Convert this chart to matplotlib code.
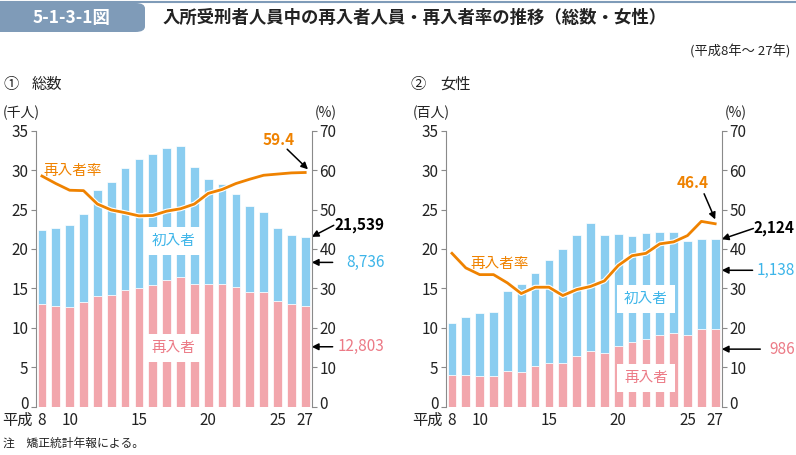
import matplotlib.pyplot as plt
import matplotlib.patheffects as pe
from matplotlib.patches import FancyBboxPatch
from matplotlib.transforms import offset_copy

plt.rcParams['font.family'] = ['Noto Sans CJK JP', 'DejaVu Sans']

years = list(range(8, 28))
xtick_pos = [8, 10, 15, 20, 25, 27]
xtick_labels = ['8', '10', '15', '20', '25', '27']

# 総数 (千人)
total_all = [22.4, 22.65, 23.03, 24.47, 27.47, 28.44, 30.22, 31.36, 32.08, 32.76,
             33.01, 30.39, 28.91, 28.19, 27.0, 25.44, 24.72, 22.7, 21.77, 21.539]
re_all = [13.02, 12.72, 12.6, 13.31, 14.03, 14.12, 14.84, 15.0, 15.47, 16.1,
          16.48, 15.55, 15.6, 15.51, 15.13, 14.58, 14.5, 13.36, 12.97, 12.803]
rate_all = [58.5, 56.6, 54.9, 54.8, 51.4, 49.9, 49.2, 48.4, 48.5, 49.6,
            50.2, 51.4, 54.1, 55.1, 56.6, 57.7, 58.7, 59.0, 59.3, 59.4]

# 女性 (百人)
total_f = [10.57, 11.37, 11.88, 12.0, 14.62, 15.55, 16.95, 18.55, 19.95, 21.77,
           23.25, 21.72, 21.89, 21.64, 22.02, 22.19, 22.19, 21.05, 21.22, 21.24]
re_f = [4.06, 3.97, 3.85, 3.93, 4.56, 4.35, 5.11, 5.54, 5.58, 6.42,
        7.02, 6.85, 7.69, 8.16, 8.54, 9.04, 9.3, 9.04, 9.89, 9.86]
rate_f = [38.9, 35.2, 33.5, 33.5, 31.4, 28.7, 30.3, 30.3, 28.2, 29.7,
          30.5, 31.9, 35.8, 38.3, 38.9, 41.3, 41.8, 43.4, 47.0, 46.4]

BLUE = '#8acdf0'
PINK = '#f2a6ac'
ORANGE = '#ef8200'
BLUE_TXT = '#3db5e9'
PINK_TXT = '#ec7a86'
SPINE = '#8a8a8a'
TXT = '#222222'

W, H = 796, 455
fig = plt.figure(figsize=(W / 100, H / 100), dpi=100)


def fx(x):
    return x / W


def fy(y):
    return 1 - y / H


# header
fig.add_artist(plt.Line2D([0, 1], [fy(2), fy(2)], color='#7f9bb8', lw=1.5))
fig.add_artist(FancyBboxPatch((fx(-10), fy(32)), fx(155), fy(3) - fy(32),
                              boxstyle='round,pad=0,rounding_size=0.012',
                              facecolor='#7f9bb8', edgecolor='none'))
fig.text(fx(72), fy(18), '5-1-3-1図', color='white', fontsize=12.5, fontweight='bold',
         ha='center', va='center')
fig.text(fx(163), fy(18), '入所受刑者人員中の再入者人員・再入者率の推移（総数・女性）',
         fontsize=12.5, fontweight='bold', color=TXT, ha='left', va='center')
fig.text(fx(790), fy(52), '(平成8年～ 27年)', fontsize=9.5, color=TXT, ha='right', va='center')
fig.text(fx(3), fy(84), '①', fontsize=11, color=TXT, va='center')
fig.text(fx(32), fy(84), '総数', fontsize=11, color=TXT, va='center')
fig.text(fx(410), fy(84), '②', fontsize=11, color=TXT, va='center')
fig.text(fx(440), fy(84), '女性', fontsize=11, color=TXT, va='center')
fig.text(fx(3), fy(443), '注　矯正統計年報による。', fontsize=8.5, color=TXT, va='center')


def lift_zero(axis):
    # the "0" label sits a little above the baseline, as in the original
    lbl = axis.get_major_ticks()[0]
    for t in (lbl.label1, lbl.label2):
        t.set_transform(offset_copy(t.get_transform(), fig=fig, y=4, units='dots'))


def panel(left, unit, total, re, rate, ann, lab):
    ax = fig.add_axes([fx(left), fy(406.7), fx(275.7), fy(130.7) - fy(406.7)])
    first = [t - r for t, r in zip(total, re)]
    ax.bar(years, re, width=0.63, color=PINK, edgecolor='white', linewidth=0.5, zorder=2)
    ax.bar(years, first, bottom=re, width=0.63, color=BLUE, edgecolor='white',
           linewidth=0.5, zorder=2)
    ax.set_xlim(7.57, 27.47)
    ax.set_ylim(0, 35)
    ax.set_yticks(range(0, 36, 5))
    ax.set_xticks(xtick_pos)
    ax.set_xticklabels(xtick_labels)
    ax.tick_params(axis='x', length=0, pad=3.5, labelsize=11, labelcolor=TXT)
    ax.tick_params(axis='y', length=3.5, width=0.8, color=SPINE, pad=2,
                   labelsize=11, labelcolor=TXT)
    for s in ['top', 'right', 'bottom']:
        ax.spines[s].set_visible(False)
    ax.spines['left'].set_color(SPINE)
    ax.annotate('平成', xy=(8, 0), xycoords=('data', 'axes fraction'),
                xytext=(-6.5, -4), textcoords='offset points',
                ha='right', va='top', fontsize=11, color=TXT)
    lift_zero(ax.yaxis)

    ax2 = ax.twinx()
    ax2.set_ylim(0, 70)
    ax2.set_yticks(range(0, 71, 10))
    ax2.tick_params(axis='y', length=3.5, width=0.8, color=SPINE, pad=2,
                    labelsize=11, labelcolor=TXT)
    for s in ['top', 'left', 'bottom']:
        ax2.spines[s].set_visible(False)
    ax2.spines['right'].set_color(SPINE)
    lift_zero(ax2.yaxis)
    ax2.plot(years, rate, color=ORANGE, lw=2,
             path_effects=[pe.Stroke(linewidth=3.6, foreground='white'), pe.Normal()])

    fig.text(fx(left - 33), fy(113), unit, fontsize=10, color=TXT, va='center')
    fig.text(fx(left + 279), fy(113), '(%)', fontsize=10, color=TXT, va='center')

    box = dict(facecolor='white', edgecolor='none', pad=5)
    ax.text(lab['first'][0], lab['first'][1], '初入者', color=BLUE_TXT, fontsize=10.5,
            ha='center', va='center', bbox=box, zorder=5)
    ax.text(lab['re'][0], lab['re'][1], '再入者', color=PINK_TXT, fontsize=10.5,
            ha='center', va='center', bbox=box, zorder=5)
    ax2.text(lab['rate'][0], lab['rate'][1], '再入者率', color=ORANGE, fontsize=10.5,
             ha='center', va='center')

    arrow = dict(arrowstyle='-|>', color='black', lw=1.1, mutation_scale=10, shrinkA=0, shrinkB=0)
    tr = ax.get_yaxis_transform()
    txt_x = 1.265
    # rate value
    ax2.annotate('', xy=ann['rate_xy'], xytext=ann['rate_from'], arrowprops=arrow)
    ax2.text(ann['rate_txt'][0], ann['rate_txt'][1], ann['rate_label'], color=ORANGE,
             fontsize=11, fontweight='bold', ha='center', va='center')
    # total
    ax.annotate('', xy=(1.0, total[-1]), xycoords=tr, xytext=ann['tot_from'], textcoords=tr,
                arrowprops=arrow)
    ax.text(txt_x, ann['tot_txt_y'], ann['tot_label'], transform=tr, color='black',
            fontsize=11, fontweight='bold', ha='right', va='center')
    # first-time
    ax.annotate('', xy=(1.0, ann['first_y']), xycoords=tr, xytext=(ann['arr_x'], ann['first_y']),
                textcoords=tr, arrowprops=arrow)
    ax.text(txt_x, ann['first_y'], ann['first_label'], transform=tr, color=BLUE_TXT,
            fontsize=11, ha='right', va='center')
    # re-entry
    ax.annotate('', xy=(1.0, ann['re_y']), xycoords=tr, xytext=(ann['re_arr_x'], ann['re_y']),
                textcoords=tr, arrowprops=arrow)
    ax.text(txt_x, ann['re_y'], ann['re_label'], transform=tr, color=PINK_TXT,
            fontsize=11, ha='right', va='center')
    return ax


panel(36, '(千人)', total_all, re_all, rate_all,
      dict(rate_xy=(27.2, 60.2), rate_from=(25.7, 65.3), rate_txt=(25.1, 67.7), rate_label='59.4',
           tot_from=(1.08, 23.0), tot_txt_y=23.0, tot_label='21,539',
           arr_x=1.076, first_y=18.3, first_label='8,736',
           re_y=7.6, re_arr_x=1.076, re_label='12,803'),
      dict(first=(17.5, 21.0), re=(17.5, 7.4), rate=(10.2, 59.8)))

panel(446, '(百人)', total_f, re_f, rate_f,
      dict(rate_xy=(27.0, 47.5), rate_from=(26.2, 54.0), rate_txt=(25.35, 56.8), rate_label='46.4',
           tot_from=(1.115, 22.6), tot_txt_y=22.6, tot_label='2,124',
           arr_x=1.112, first_y=17.3, first_label='1,138',
           re_y=7.3, re_arr_x=1.14, re_label='986'),
      dict(first=(22.0, 13.7), re=(22.0, 3.6), rate=(11.45, 36.2)))

fig.savefig('out.png', dpi=100)
